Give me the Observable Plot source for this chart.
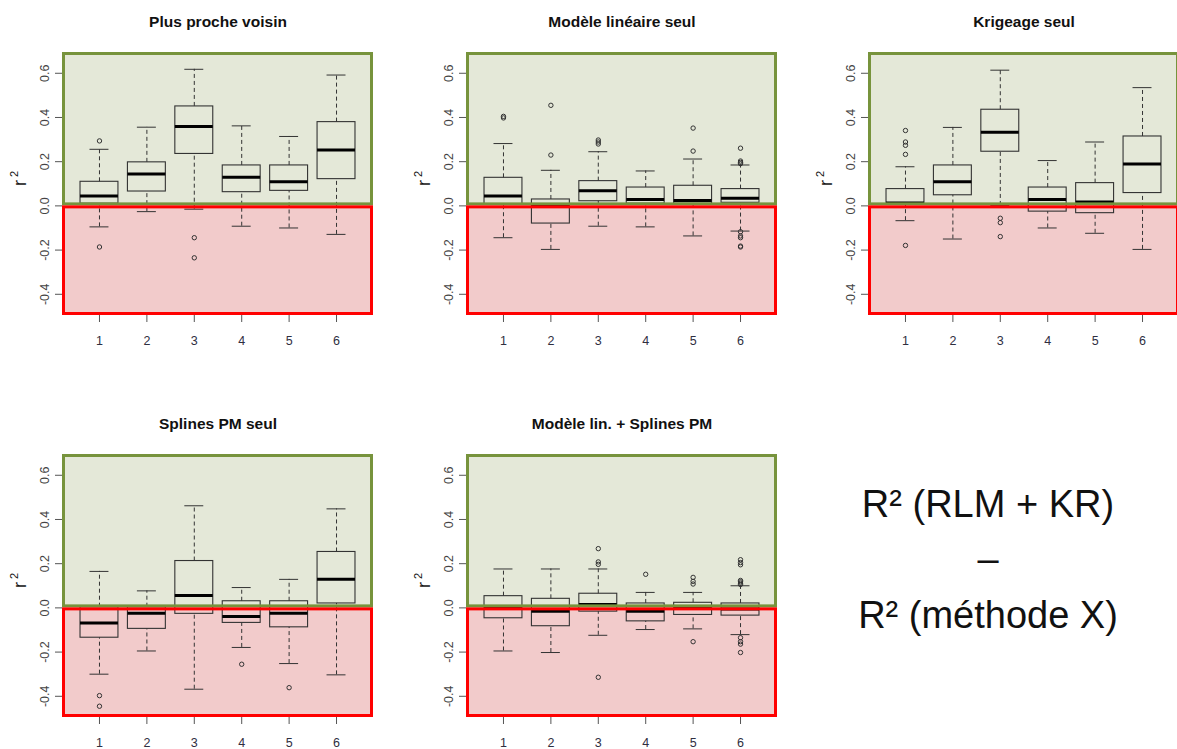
<!DOCTYPE html>
<html>
<head>
<meta charset="utf-8">
<script src="https://cdn.jsdelivr.net/npm/d3@7"></script>
<script src="https://cdn.jsdelivr.net/npm/@observablehq/plot@0.6"></script>
<style>
  body { margin: 0; background: #fff; }
  #root { position: relative; width: 1177px; height: 749px; overflow: hidden; background: #fff; font-family: "Liberation Sans", Arial, sans-serif; }
  .panel { position: absolute; width: 400px; height: 360px; }
  .panel svg { max-width: none !important; }
  #note { position: absolute; left: 0; top: 0; }
</style>
</head>
<body>
<div id="root"></div>
<script>
// ---------- data ----------
const groups = [1, 2, 3, 4, 5, 6];
const yTicks = [-0.4, -0.2, 0.0, 0.2, 0.4, 0.6];
const titles = ["Plus proche voisin", "Modèle linéaire seul", "Krigeage seul", "Splines PM seul", "Modèle lin. + Splines PM"];
const noteLines = ["R² (RLM + KR)", "–", "R² (méthode X)"];

// Plus proche voisin
const ppv_low = [-0.095, -0.026, -0.015, -0.092, -0.100, -0.129];
const ppv_q1  = [0.010, 0.065, 0.235, 0.062, 0.068, 0.121];
const ppv_med = [0.045, 0.144, 0.359, 0.129, 0.109, 0.253];
const ppv_q3  = [0.109, 0.197, 0.450, 0.183, 0.183, 0.379];
const ppv_high = [0.256, 0.356, 0.618, 0.362, 0.314, 0.592];
const ppv_out = [[0.294, -0.186], [], [-0.144, -0.235], [], [], []];

// Modèle linéaire seul
const lin_low = [-0.144, -0.197, -0.092, -0.095, -0.136, -0.114];
const lin_q1  = [0.005, -0.080, 0.021, 0.010, 0.010, 0.014];
const lin_med = [0.045, 0.000, 0.068, 0.029, 0.024, 0.035];
const lin_q3  = [0.127, 0.029, 0.112, 0.083, 0.091, 0.076];
const lin_high = [0.282, 0.161, 0.245, 0.158, 0.212, 0.185];
const lin_out = [[0.405, 0.398], [0.455, 0.230], [0.298, 0.289, 0.280], [], [0.352, 0.248],
                 [0.261, 0.203, 0.197, 0.191, -0.117, -0.136, -0.144, -0.182, -0.186]];

// Krigeage seul
const kr_low = [-0.067, -0.150, 0.002, -0.100, -0.124, -0.197];
const kr_q1  = [0.010, 0.048, 0.245, -0.026, -0.033, 0.058];
const kr_med = [0.013, 0.109, 0.333, 0.029, 0.018, 0.189];
const kr_q3  = [0.076, 0.183, 0.435, 0.083, 0.103, 0.314];
const kr_high = [0.177, 0.355, 0.614, 0.205, 0.289, 0.535];
const kr_out = [[0.341, 0.289, 0.274, 0.233, -0.179], [], [-0.056, -0.076, -0.139], [], [], []];

// Splines PM seul
const spl_low = [-0.300, -0.195, -0.368, -0.179, -0.252, -0.303];
const spl_q1  = [-0.135, -0.095, -0.027, -0.068, -0.088, 0.020];
const spl_med = [-0.068, -0.024, 0.056, -0.039, -0.024, 0.129];
const spl_q3  = [0.003, 0.003, 0.212, 0.030, 0.030, 0.253];
const spl_high = [0.165, 0.077, 0.462, 0.092, 0.129, 0.448];
const spl_out = [[-0.397, -0.445], [], [], [-0.255], [-0.361], []];

// Modèle lin. + Splines PM
const ls_low = [-0.195, -0.202, -0.124, -0.098, -0.095, -0.121];
const ls_q1  = [-0.047, -0.083, -0.017, -0.061, -0.032, -0.035];
const ls_med = [-0.002, -0.015, 0.015, -0.015, 0.000, -0.005];
const ls_q3  = [0.053, 0.041, 0.064, 0.020, 0.023, 0.020];
const ls_high = [0.176, 0.176, 0.176, 0.070, 0.070, 0.100];
const ls_out = [[], [], [0.268, 0.208, 0.197, -0.314], [0.152], [0.138, 0.120, 0.108, -0.153],
                [0.218, 0.205, 0.195, 0.124, 0.118, 0.112, 0.106, -0.135, -0.153, -0.164, -0.202]];

// ---------- drawing ----------
const X_DOMAIN = [0.22, 6.78];
const Y_DOMAIN = [-0.496, 0.694];
const GREEN_FILL = "#e4e8d8", GREEN_LINE = "#77933c";
const RED_FILL = "#f2cbcb", RED_LINE = "#ff0000";
const BOX = "#333";

function panel(title, low, q1, med, q3, high, out) {
  const rows = groups.map((g, i) => ({x: g, low: low[i], q1: q1[i], med: med[i], q3: q3[i], high: high[i]}));
  const outs = out.flatMap((arr, i) => arr.map(v => ({x: groups[i], v})));
  const zones = [
    {y1: 0, y2: Y_DOMAIN[1], fill: GREEN_FILL, stroke: GREEN_LINE},
    {y1: Y_DOMAIN[0], y2: 0, fill: RED_FILL, stroke: RED_LINE}
  ];
  return Plot.plot({
    width: 400, height: 360,
    marginLeft: 62, marginRight: 27, marginTop: 52, marginBottom: 45,
    x: {domain: X_DOMAIN, axis: null},
    y: {domain: Y_DOMAIN, axis: null},
    style: {fontFamily: "'Liberation Sans', Arial, sans-serif", background: "transparent", overflow: "visible", maxWidth: "none"},
    marks: [
      Plot.rect(zones, {x1: X_DOMAIN[0], x2: X_DOMAIN[1], y1: "y1", y2: "y2", fill: d => d.fill}),
      // whiskers
      Plot.ruleX(rows, {x: "x", y1: "q3", y2: "high", stroke: BOX, strokeDasharray: "4,3", strokeWidth: 1}),
      Plot.ruleX(rows, {x: "x", y1: "low", y2: "q1", stroke: BOX, strokeDasharray: "4,3", strokeWidth: 1}),
      Plot.ruleY(rows, {y: "high", x1: d => d.x - 0.2, x2: d => d.x + 0.2, stroke: BOX, strokeWidth: 1}),
      Plot.ruleY(rows, {y: "low", x1: d => d.x - 0.2, x2: d => d.x + 0.2, stroke: BOX, strokeWidth: 1}),
      // boxes
      Plot.rect(rows, {x1: d => d.x - 0.4, x2: d => d.x + 0.4, y1: "q1", y2: "q3", fill: "none", stroke: BOX, strokeWidth: 1.1}),
      Plot.ruleY(rows, {y: "med", x1: d => d.x - 0.4, x2: d => d.x + 0.4, stroke: "#000", strokeWidth: 3}),
      // outliers
      Plot.dot(outs, {x: "x", y: "v", r: 2.2, stroke: BOX, fill: "none", strokeWidth: 1}),
      // zone borders
      Plot.rect(zones, {x1: X_DOMAIN[0], x2: X_DOMAIN[1], y1: "y1", y2: "y2", fill: "none",
                        stroke: d => d.stroke, strokeWidth: 3, inset: 1.5}),
      // axes
      Plot.axisY({ticks: yTicks, tickSize: 7, tickFormat: () => "", label: null, stroke: "#555"}),
      Plot.text(yTicks, {y: d => d, text: d => d.toFixed(1), frameAnchor: "left", dx: -18, rotate: -90,
                         textAnchor: "middle", lineAnchor: "middle", fontSize: 12.5, fill: "#444"}),
      Plot.axisX({ticks: groups, tickSize: 7, tickFormat: () => "", label: null, stroke: "#555"}),
      Plot.text(groups, {x: d => d, text: d => String(d), frameAnchor: "bottom", dy: 25,
                         lineAnchor: "middle", fontSize: 12.5, fill: "#2f2f3f"}),
      // y label r^2
      Plot.text(["r"], {frameAnchor: "left", dx: -42, dy: 2, rotate: -90, fontSize: 18, fill: "#111", lineAnchor: "middle"}),
      Plot.text(["2"], {frameAnchor: "left", dx: -48, dy: -7, rotate: -90, fontSize: 11, fill: "#111", lineAnchor: "middle"}),
      // title
      Plot.text([title], {frameAnchor: "top", dy: -30, fontSize: 15.5, fontWeight: "bold", fill: "#111", lineAnchor: "middle"})
    ]
  });
}

const root = document.getElementById("root");
const specs = [
  [titles[0], ppv_low, ppv_q1, ppv_med, ppv_q3, ppv_high, ppv_out, 0, 0],
  [titles[1], lin_low, lin_q1, lin_med, lin_q3, lin_high, lin_out, 404, 0],
  [titles[2], kr_low, kr_q1, kr_med, kr_q3, kr_high, kr_out, 806, 0],
  [titles[3], spl_low, spl_q1, spl_med, spl_q3, spl_high, spl_out, 0, 402],
  [titles[4], ls_low, ls_q1, ls_med, ls_q3, ls_high, ls_out, 404, 402]
];
for (const s of specs) {
  const el = panel(s[0], s[1], s[2], s[3], s[4], s[5], s[6]);
  const wrap = document.createElement("div");
  wrap.className = "panel";
  wrap.style.left = s[7] + "px";
  wrap.style.top = s[8] + "px";
  wrap.appendChild(el);
  root.appendChild(wrap);
}

// note text (bottom right)
const svgNS = "http://www.w3.org/2000/svg";
const note = document.createElementNS(svgNS, "svg");
note.setAttribute("id", "note");
note.setAttribute("width", 1177);
note.setAttribute("height", 749);
const baselines = [517, 572, 628];
noteLines.forEach((t, i) => {
  const tx = document.createElementNS(svgNS, "text");
  tx.setAttribute("x", 988);
  tx.setAttribute("y", baselines[i]);
  tx.setAttribute("text-anchor", "middle");
  tx.setAttribute("font-family", "'Liberation Sans', Arial, sans-serif");
  tx.setAttribute("font-size", 38);
  tx.setAttribute("fill", "#111");
  tx.textContent = t;
  note.appendChild(tx);
});
root.appendChild(note);
</script>
</body>
</html>
